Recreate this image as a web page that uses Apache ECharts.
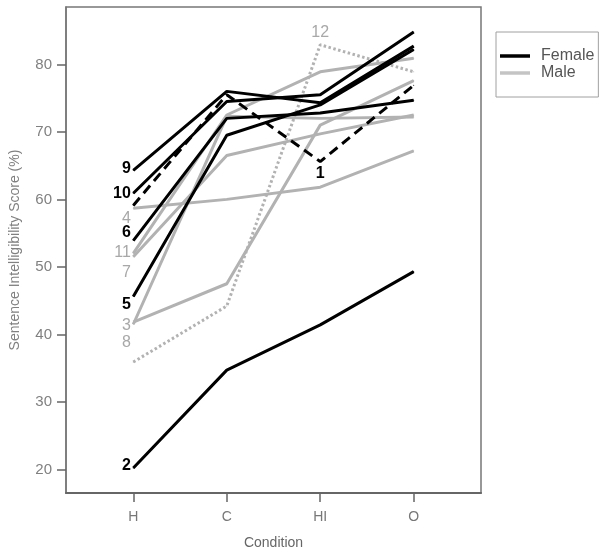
<!DOCTYPE html>
<html><head><meta charset="utf-8">
<script src="https://cdn.jsdelivr.net/npm/echarts@6/dist/echarts.min.js"></script>
<style>html,body{margin:0;padding:0;background:#fff}#c{width:604px;height:557px}</style>
</head><body><div id="c"></div>
<script>
const conditions = ['H', 'C', 'HI', 'O'];
const yTicks = [20, 30, 40, 50, 60, 70, 80];

// Female (black)
const s9  = [64.3, 76.0, 74.3, 82.7];
const s10 = [60.9, 74.5, 75.5, 84.8];
const s6  = [53.9, 72.0, 72.8, 74.7];
const s5  = [45.6, 69.5, 74.0, 82.2];
const s2  = [20.2, 34.7, 41.4, 49.3];
const s1  = [59.1, 75.5, 65.6, 76.9];   // dashed
// Male (gray)
const s4  = [58.7, 60.0, 61.8, 67.2];
const s11 = [52.0, 72.5, 78.9, 80.9];
const s7  = [51.5, 66.5, 69.7, 72.5];
const s3  = [41.8, 47.5, 71.0, 77.6];
const s8  = [41.5, 72.3, 72.0, 72.2];
const s12 = [35.9, 44.2, 82.9, 78.9];   // dotted

const subjects = [
  {id:'4',  vals:s4,  sex:'M', type:'solid',  labelAt:0, off:[0,10]},
  {id:'11', vals:s11, sex:'M', type:'solid',  labelAt:0, off:[0,-1]},
  {id:'7',  vals:s7,  sex:'M', type:'solid',  labelAt:0, off:[0,16]},
  {id:'3',  vals:s3,  sex:'M', type:'solid',  labelAt:0, off:[0,3]},
  {id:'8',  vals:s8,  sex:'M', type:'solid',  labelAt:0, off:[0,18]},
  {id:'12', vals:s12, sex:'M', type:'dotted', labelAt:2, off:[0,0], pos:'top'},
  {id:'9',  vals:s9,  sex:'F', type:'solid',  labelAt:0, off:[0,-2]},
  {id:'10', vals:s10, sex:'F', type:'solid',  labelAt:0, off:[0,0]},
  {id:'6',  vals:s6,  sex:'F', type:'solid',  labelAt:0, off:[0,-8]},
  {id:'5',  vals:s5,  sex:'F', type:'solid',  labelAt:0, off:[0,8]},
  {id:'2',  vals:s2,  sex:'F', type:'solid',  labelAt:0, off:[0,-2]},
  {id:'1',  vals:s1,  sex:'F', type:'dashed', labelAt:2, off:[0,0], pos:'bottom'}
];

const BLACK = '#000000', GRAY = '#b2b2b2';
const FONT = '"Liberation Sans", Arial, sans-serif';

const series = subjects.map(s => {
  const col = s.sex === 'F' ? BLACK : GRAY;
  return {
    name: 'S' + s.id,
    type: 'line',
    symbol: 'circle',
    symbolSize: 1,
    showSymbol: true,
    silent: true,
    z: s.sex === 'F' ? 3 : 2,
    itemStyle: {color: col},
    lineStyle: {color: col, width: 3,
      type: s.type === 'dashed' ? [10, 6] : (s.type === 'dotted' ? [2.5, 2.5] : 'solid')},
    data: s.vals.map((v, i) => {
      const d = {value: [i, v]};
      if (i === s.labelAt) {
        d.label = {
          show: true,
          formatter: s.id,
          position: s.pos || 'left',
          distance: s.pos ? 4 : 2,
          offset: s.off,
          color: s.sex === 'F' ? '#000' : '#a8a8a8',
          fontWeight: s.sex === 'F' ? 'bold' : 'normal',
          fontSize: 16,
          fontFamily: FONT
        };
      }
      return d;
    })
  };
});
series.push({name:'Female', type:'line', data:[], itemStyle:{color:BLACK}, lineStyle:{color:BLACK}});
series.push({name:'Male', type:'line', data:[], itemStyle:{color:GRAY}, lineStyle:{color:GRAY}});

const chart = echarts.init(document.getElementById('c'), null, {renderer:'canvas'});
chart.setOption({
  animation: false,
  backgroundColor: '#fff',
  grid: {left: 63, right: 123, top: 7, bottom: 64, show: true, borderColor: '#777', borderWidth: 1.5, backgroundColor: 'transparent'},
  legend: {
    data: [
      {name:'Female', icon:'rect', itemStyle:{color:BLACK}},
      {name:'Male', icon:'rect', itemStyle:{color:'#c4c4c4'}}
    ],
    orient: 'vertical',
    left: 496, top: 32,
    width: 103,
    padding: [16, 4, 16, 4],
    itemWidth: 30, itemHeight: 3.5, itemGap: 1,
    borderColor: '#a0a0a0', borderWidth: 1,
    selectedMode: false,
    textStyle: {fontFamily: FONT, fontSize: 16, color: '#555', padding: [0, 0, 0, 6]}
  },
  xAxis: {
    type: 'value', min: -0.72, max: 3.72,
    name: 'Condition', nameLocation: 'middle', nameGap: 43,
    nameTextStyle: {fontFamily: FONT, fontSize: 14, color: '#666'},
    axisLine: {show: true, onZero: false, lineStyle: {color: '#666', width: 2}},
    axisTick: {show: true, length: 9, customValues: [0,1,2,3], lineStyle: {color: '#666', width: 1.5}},
    axisLabel: {customValues: [0,1,2,3], margin: 17, formatter: v => conditions[Math.round(v)],
      fontFamily: FONT, fontSize: 14, color: '#777'},
    splitLine: {show: false}
  },
  yAxis: {
    type: 'value', min: 16.5, max: 88.5,
    name: 'Sentence Intelligibility Score (%)', nameLocation: 'middle', nameGap: 44, nameRotate: 90,
    nameTextStyle: {fontFamily: FONT, fontSize: 14, color: '#808080'},
    axisLine: {show: true, onZero: false, lineStyle: {color: '#777', width: 1.5}},
    axisTick: {show: true, length: 9, customValues: yTicks, lineStyle: {color: '#666', width: 1.5}},
    axisLabel: {customValues: yTicks, margin: 14, fontFamily: FONT, fontSize: 15, color: '#808080'},
    splitLine: {show: false}
  },
  series: series
});
</script></body></html>
